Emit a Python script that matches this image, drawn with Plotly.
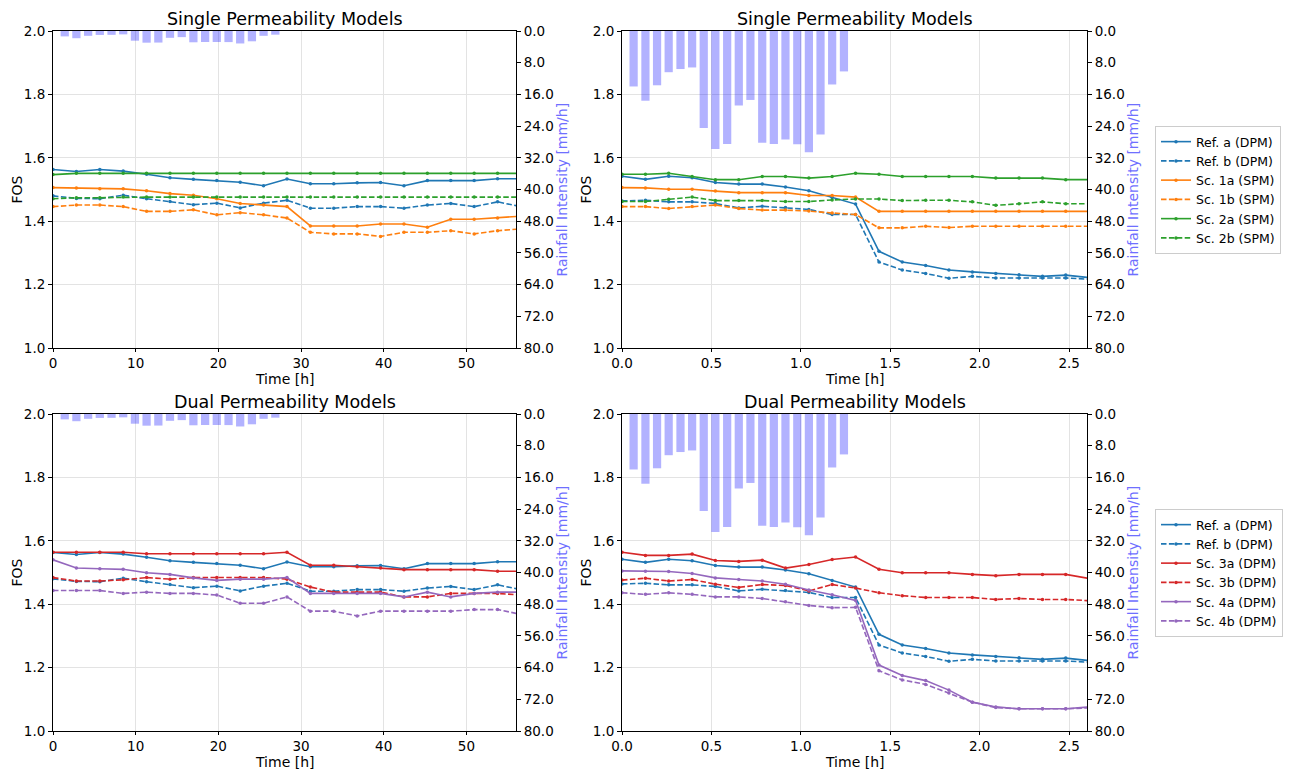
import plotly.graph_objects as go

W, H = 1289, 771

# ---------------- data ----------------
time_long = [0.0, 2.83, 5.66, 8.49, 11.32, 14.15, 16.98, 19.81, 22.64, 25.47, 28.3,
             31.13, 33.96, 36.79, 39.62, 42.45, 45.28, 48.11, 50.94, 53.77, 56.6]
time_short = [0.0, 0.131, 0.261, 0.392, 0.522, 0.653, 0.784, 0.914, 1.045, 1.175, 1.306,
              1.437, 1.567, 1.698, 1.828, 1.959, 2.09, 2.22, 2.351, 2.481, 2.612]

rain_time_long = [1.42, 2.83, 4.25, 5.66, 7.08, 8.49, 9.91, 11.32, 12.74, 14.15,
                  15.57, 16.98, 18.4, 19.81, 21.23, 22.64, 24.06, 25.47, 26.89]
rain_time_short = [0.065, 0.131, 0.196, 0.261, 0.327, 0.392, 0.457, 0.522, 0.588, 0.653,
                   0.718, 0.784, 0.849, 0.914, 0.98, 1.045, 1.11, 1.175, 1.241]
rain_long = [1.36, 1.82, 1.22, 1.0, 0.97, 0.85, 2.45, 2.95, 2.92, 1.72,
             1.55, 2.85, 2.78, 2.77, 2.8, 3.15, 2.6, 1.22, 0.93]
rain_short = [14.0, 17.6, 13.7, 10.4, 9.6, 9.2, 24.5, 29.8, 28.5, 18.8,
              17.4, 28.2, 28.5, 27.4, 28.6, 30.6, 26.1, 13.5, 10.2]

# long-duration event (left panels)
ref_a_long = [1.563, 1.557, 1.563, 1.558, 1.548, 1.537, 1.532, 1.528, 1.523, 1.512, 1.533,
              1.518, 1.518, 1.521, 1.522, 1.512, 1.528, 1.528, 1.528, 1.534, 1.534]
ref_b_long = [1.480, 1.472, 1.471, 1.482, 1.471, 1.462, 1.452, 1.457, 1.442, 1.457, 1.466,
              1.441, 1.441, 1.446, 1.446, 1.441, 1.451, 1.456, 1.446, 1.461, 1.446]
sc1a_long = [1.506, 1.505, 1.502, 1.502, 1.496, 1.487, 1.482, 1.471, 1.456, 1.451, 1.446,
             1.385, 1.385, 1.385, 1.391, 1.391, 1.381, 1.406, 1.406, 1.410, 1.416]
sc1b_long = [1.446, 1.451, 1.451, 1.446, 1.431, 1.431, 1.436, 1.420, 1.427, 1.420, 1.410,
             1.365, 1.360, 1.360, 1.352, 1.365, 1.365, 1.370, 1.360, 1.370, 1.376]
sc2a_long = [1.547, 1.551, 1.551, 1.551, 1.551, 1.551, 1.551, 1.551, 1.551, 1.551, 1.551,
             1.551, 1.551, 1.551, 1.551, 1.551, 1.551, 1.551, 1.551, 1.551, 1.551]
sc2b_long = [1.471, 1.474, 1.474, 1.476, 1.476, 1.476, 1.476, 1.476, 1.476, 1.476, 1.476,
             1.476, 1.476, 1.476, 1.476, 1.476, 1.476, 1.476, 1.476, 1.476, 1.476]
sc3a_long = [1.564, 1.564, 1.564, 1.564, 1.559, 1.559, 1.559, 1.559, 1.559, 1.559, 1.564,
             1.523, 1.523, 1.518, 1.514, 1.509, 1.509, 1.509, 1.509, 1.504, 1.504]
sc3b_long = [1.484, 1.473, 1.473, 1.477, 1.484, 1.479, 1.484, 1.484, 1.484, 1.484, 1.479,
             1.454, 1.438, 1.438, 1.438, 1.423, 1.423, 1.434, 1.434, 1.434, 1.429]
sc4a_long = [1.540, 1.514, 1.512, 1.510, 1.499, 1.494, 1.483, 1.475, 1.479, 1.479, 1.484,
             1.434, 1.434, 1.434, 1.434, 1.423, 1.438, 1.423, 1.434, 1.438, 1.438]
sc4b_long = [1.443, 1.443, 1.443, 1.434, 1.438, 1.434, 1.434, 1.429, 1.403, 1.403, 1.423,
             1.378, 1.378, 1.363, 1.378, 1.378, 1.378, 1.378, 1.383, 1.383, 1.368]

# short-duration event (right panels)
ref_a_short = [1.542, 1.532, 1.542, 1.537, 1.522, 1.517, 1.517, 1.508, 1.496, 1.475, 1.454,
               1.305, 1.271, 1.260, 1.246, 1.240, 1.235, 1.231, 1.226, 1.230, 1.222]
ref_b_short = [1.464, 1.466, 1.461, 1.461, 1.456, 1.442, 1.447, 1.443, 1.437, 1.421, 1.421,
               1.271, 1.246, 1.235, 1.220, 1.226, 1.221, 1.221, 1.221, 1.221, 1.217]
sc1a_short = [1.506, 1.505, 1.501, 1.501, 1.495, 1.490, 1.490, 1.490, 1.481, 1.481, 1.476,
              1.431, 1.431, 1.431, 1.431, 1.431, 1.431, 1.431, 1.431, 1.431, 1.431]
sc1b_short = [1.446, 1.446, 1.440, 1.446, 1.451, 1.440, 1.435, 1.435, 1.432, 1.426, 1.421,
              1.379, 1.379, 1.384, 1.380, 1.384, 1.384, 1.384, 1.384, 1.384, 1.384]
sc2a_short = [1.548, 1.548, 1.551, 1.541, 1.531, 1.531, 1.541, 1.541, 1.536, 1.541, 1.551,
              1.548, 1.541, 1.541, 1.541, 1.541, 1.536, 1.536, 1.536, 1.531, 1.531]
sc2b_short = [1.462, 1.462, 1.469, 1.476, 1.465, 1.465, 1.465, 1.462, 1.462, 1.467, 1.470,
              1.470, 1.465, 1.466, 1.466, 1.461, 1.450, 1.455, 1.461, 1.455, 1.455]
sc3a_short = [1.564, 1.554, 1.554, 1.558, 1.538, 1.535, 1.539, 1.514, 1.525, 1.541, 1.549,
              1.510, 1.499, 1.499, 1.499, 1.494, 1.490, 1.494, 1.494, 1.494, 1.481]
sc3b_short = [1.476, 1.482, 1.473, 1.478, 1.463, 1.453, 1.462, 1.459, 1.442, 1.462, 1.451,
              1.436, 1.427, 1.421, 1.421, 1.421, 1.415, 1.418, 1.415, 1.415, 1.411]
sc4a_short = [1.505, 1.504, 1.503, 1.497, 1.483, 1.478, 1.473, 1.463, 1.445, 1.430, 1.412,
              1.208, 1.175, 1.159, 1.129, 1.091, 1.076, 1.070, 1.070, 1.070, 1.076]
sc4b_short = [1.436, 1.431, 1.436, 1.431, 1.423, 1.423, 1.418, 1.408, 1.396, 1.389, 1.390,
              1.190, 1.161, 1.147, 1.120, 1.091, 1.074, 1.070, 1.070, 1.070, 1.073]

fos_ticks = [1.0, 1.2, 1.4, 1.6, 1.8, 2.0]
rain_ticks = [0, 8, 16, 24, 32, 40, 48, 56, 64, 72, 80]
long_ticks = [0, 10, 20, 30, 40, 50]
short_ticks = [0.0, 0.5, 1.0, 1.5, 2.0, 2.5]

# ---------------- style ----------------
BLUE, ORANGE, GREEN, RED, PURPLE = "#1f77b4", "#ff7f0e", "#2ca02c", "#d62728", "#9467bd"
FONT = "DejaVu Sans"
RAIN_BAR = "rgba(0,0,255,0.3)"
RAIN_LABEL = "#6f6fff"
GRID = "#e3e3e3"
DASH = "5.5px,2.4px"


def fx(p):
    return p / W


def fy(p):
    return 1 - p / H


# panel pixel boxes: (x0, x1, ytop, ybottom)
panels = [
    dict(box=(53, 516, 31, 348), time=time_long, rt=rain_time_long, rain=rain_long, bw=1.0,
         xr=[0, 56], xt=long_ticks, xfmt="d", title="Single Permeability Models",
         series=[("Ref. a (DPM)", ref_a_long, BLUE, "solid"),
                 ("Ref. b (DPM)", ref_b_long, BLUE, DASH),
                 ("Sc. 1a (SPM)", sc1a_long, ORANGE, "solid"),
                 ("Sc. 1b (SPM)", sc1b_long, ORANGE, DASH),
                 ("Sc. 2a (SPM)", sc2a_long, GREEN, "solid"),
                 ("Sc. 2b (SPM)", sc2b_long, GREEN, DASH)], legend=None),
    dict(box=(622, 1087, 31, 348), time=time_short, rt=rain_time_short, rain=rain_short, bw=0.046,
         xr=[0, 2.6], xt=short_ticks, xfmt=".1f", title="Single Permeability Models",
         series=[("Ref. a (DPM)", ref_a_short, BLUE, "solid"),
                 ("Ref. b (DPM)", ref_b_short, BLUE, DASH),
                 ("Sc. 1a (SPM)", sc1a_short, ORANGE, "solid"),
                 ("Sc. 1b (SPM)", sc1b_short, ORANGE, DASH),
                 ("Sc. 2a (SPM)", sc2a_short, GREEN, "solid"),
                 ("Sc. 2b (SPM)", sc2b_short, GREEN, DASH)], legend="legend"),
    dict(box=(53, 516, 414, 731), time=time_long, rt=rain_time_long, rain=rain_long, bw=1.0,
         xr=[0, 56], xt=long_ticks, xfmt="d", title="Dual Permeability Models",
         series=[("Ref. a (DPM)", ref_a_long, BLUE, "solid"),
                 ("Ref. b (DPM)", ref_b_long, BLUE, DASH),
                 ("Sc. 3a (DPM)", sc3a_long, RED, "solid"),
                 ("Sc. 3b (DPM)", sc3b_long, RED, DASH),
                 ("Sc. 4a (DPM)", sc4a_long, PURPLE, "solid"),
                 ("Sc. 4b (DPM)", sc4b_long, PURPLE, DASH)], legend=None),
    dict(box=(622, 1087, 414, 731), time=time_short, rt=rain_time_short, rain=rain_short, bw=0.046,
         xr=[0, 2.6], xt=short_ticks, xfmt=".1f", title="Dual Permeability Models",
         series=[("Ref. a (DPM)", ref_a_short, BLUE, "solid"),
                 ("Ref. b (DPM)", ref_b_short, BLUE, DASH),
                 ("Sc. 3a (DPM)", sc3a_short, RED, "solid"),
                 ("Sc. 3b (DPM)", sc3b_short, RED, DASH),
                 ("Sc. 4a (DPM)", sc4a_short, PURPLE, "solid"),
                 ("Sc. 4b (DPM)", sc4b_short, PURPLE, DASH)], legend="legend2"),
]

fig = go.Figure()
layout = {}
annotations = []
tickfont = dict(family=FONT, size=13.5, color="#000")

for i, p in enumerate(panels):
    n = i + 1
    x0, x1, yt, yb = p["box"]
    xname = "x" if n == 1 else f"x{n}"
    yname = "y" if n == 1 else f"y{n}"
    y2name = f"y{n + 4}"
    xkey = "xaxis" if n == 1 else f"xaxis{n}"
    ykey = "yaxis" if n == 1 else f"yaxis{n}"
    y2key = f"yaxis{n + 4}"
    xd = [fx(x0), fx(x1)]
    yd = [fy(yb), fy(yt)]

    layout[xkey] = dict(domain=xd, anchor=yname, range=p["xr"], tickvals=p["xt"],
                        tickformat=p["xfmt"], showgrid=True, gridcolor=GRID, gridwidth=1,
                        showline=True, linecolor="#000", linewidth=1, mirror=True,
                        ticks="outside", ticklen=3, tickcolor="#000", tickfont=tickfont,
                        zeroline=False, automargin=False)
    layout[ykey] = dict(domain=yd, anchor=xname, range=[1.0, 2.0], tickvals=fos_ticks,
                        tickformat=".1f", showgrid=True, gridcolor=GRID, gridwidth=1,
                        showline=True, linecolor="#000", linewidth=1,
                        ticks="outside", ticklen=4, tickcolor="#000", tickfont=tickfont,
                        zeroline=False, automargin=False)
    layout[y2key] = dict(domain=yd, anchor=xname, overlaying=yname, side="right",
                         range=[80, 0], tickvals=rain_ticks, tickformat=".1f",
                         showgrid=False, showline=True, linecolor="#000", linewidth=1,
                         ticks="outside", ticklen=4, tickcolor="#000", tickfont=tickfont,
                         zeroline=False, automargin=False)

    # rainfall bars (secondary, inverted axis)
    fig.add_trace(go.Bar(x=p["rt"], y=p["rain"], width=p["bw"], marker_color=RAIN_BAR,
                         marker_line_width=0, xaxis=xname, yaxis=y2name, showlegend=False,
                         hoverinfo="skip"))
    # FOS lines
    for name, vals, col, dash in p["series"]:
        kw = dict(x=p["time"], y=vals, name=name, mode="lines+markers",
                  line=dict(color=col, width=1.6, dash=dash),
                  marker=dict(color=col, size=3.5),
                  xaxis=xname, yaxis=yname)
        if p["legend"] is None:
            kw["showlegend"] = False
        else:
            kw["legend"] = p["legend"]
        fig.add_trace(go.Scatter(**kw))

    xc = (x0 + x1) / 2
    ymid = (yt + yb) / 2
    annotations.append(dict(text=p["title"], x=fx(xc), y=fy(yt - 12), xref="paper", yref="paper",
                            showarrow=False, xanchor="center", yanchor="middle",
                            font=dict(family=FONT, size=17.5, color="#000")))
    annotations.append(dict(text="Time [h]", x=fx(xc), y=fy(yb + 31), xref="paper", yref="paper",
                            showarrow=False, xanchor="center", yanchor="middle",
                            font=dict(family=FONT, size=14, color="#000")))
    annotations.append(dict(text="FOS", x=fx(x0 - 37), y=fy(ymid), xref="paper", yref="paper",
                            showarrow=False, xanchor="center", yanchor="middle", textangle=-90,
                            font=dict(family=FONT, size=14, color="#000")))
    annotations.append(dict(text="Rainfall Intensity [mm/h]", x=fx(x1 + 45), y=fy(ymid),
                            xref="paper", yref="paper", showarrow=False, xanchor="center",
                            yanchor="middle", textangle=-90,
                            font=dict(family=FONT, size=14, color=RAIN_LABEL)))

legend_style = dict(xanchor="left", yanchor="top", bgcolor="rgba(255,255,255,0.9)",
                    bordercolor="#cccccc", borderwidth=1,
                    font=dict(family=FONT, size=12.5, color="#000"), itemwidth=30,
                    tracegroupgap=0)

fig.update_layout(
    width=W, height=H, autosize=False,
    margin=dict(l=0, r=0, t=0, b=0, autoexpand=False),
    paper_bgcolor="white", plot_bgcolor="white",
    font=dict(family=FONT, color="#000"),
    barmode="overlay",
    annotations=annotations,
    legend=dict(x=fx(1155), y=fy(126), **legend_style),
    legend2=dict(x=fx(1155), y=fy(509), **legend_style),
    **layout,
)

fig.write_html("out.html", config={"displayModeBar": False},
               post_script="document.body.style.margin='0';document.body.style.overflow='hidden';")
